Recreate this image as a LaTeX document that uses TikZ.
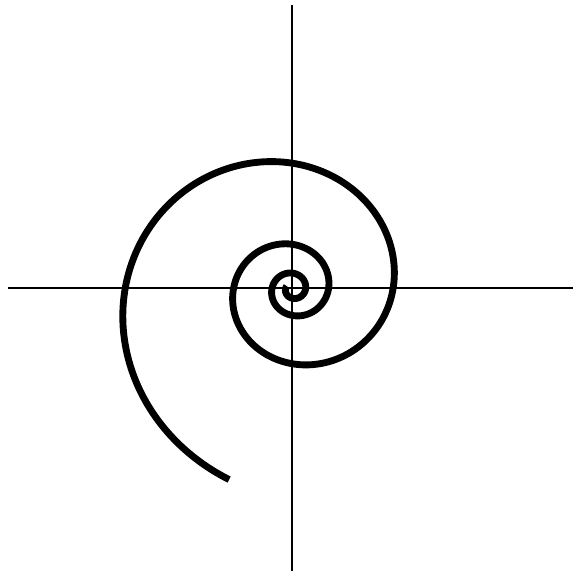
\documentclass[tikz,border=0pt]{standalone}
\usepackage{tikz}
\usetikzlibrary{positioning}

\begin{document}
\begin{tikzpicture}[
        x=0.02cm, y=0.02cm,
        axis/.style={draw=black, line width=0.9pt},
        spiral/.style={draw=black, line width=3.9pt}
    ]
        \useasboundingbox (-292,-283) rectangle (281,288);
        \coordinate (O) at (0,0);
        \coordinate (xl) at (-284,0);
        \coordinate (xr) at (281,0);
        \coordinate (yb) at (0,-283);
        \coordinate (yt) at (0,283);

        \path [axis] (xl) -- (xr);
        \path [axis] (yb) -- (yt);

        % Logarithmic spiral winding in towards the origin
        \path [spiral] plot[domain=-925:252, samples=500, smooth, variable=\t]
            ({1+100*exp(0.165*\t*pi/180)*cos(\t)}, {-1+97*exp(0.165*\t*pi/180)*sin(\t)});
    \end{tikzpicture}
\end{document}
